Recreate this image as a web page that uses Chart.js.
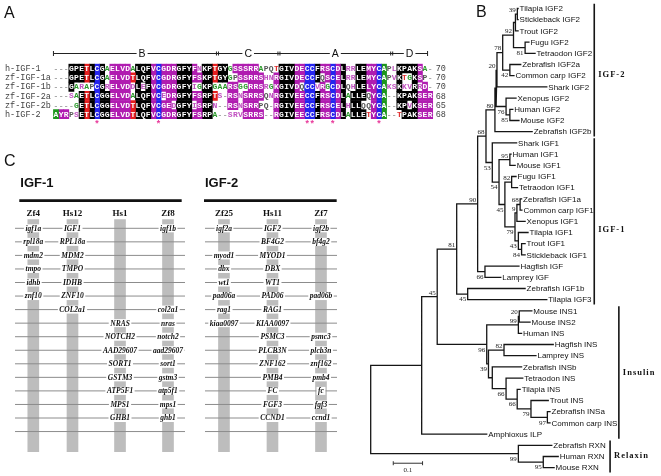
<!DOCTYPE html>
<html>
<head>
<meta charset="utf-8">
<title>IGF alignment, phylogeny and synteny</title>
<script src="https://cdn.jsdelivr.net/npm/chart.js@4.4.1/dist/chart.umd.min.js"></script>
<style>
  html, body { margin: 0; padding: 0; background: #fff; }
  #fig { position: relative; width: 661px; height: 476px; overflow: hidden; background: #fff; }
  #fig canvas { position: absolute; }
  .panel { position: absolute; font-family: "Liberation Sans", Arial, sans-serif; font-size: 16px; color: #111; line-height: 1; }
</style>
</head>
<body>
<div id="fig">
  <canvas id="chartA" width="450" height="135" style="left:0;top:0"></canvas>
  <canvas id="chartB" width="331" height="476" style="left:330px;top:0"></canvas>
  <canvas id="chartC" width="345" height="326" style="left:0;top:150px"></canvas>
  <div class="panel" style="left:4px;top:5px">A</div>
  <div class="panel" style="left:476px;top:4px">B</div>
  <div class="panel" style="left:4px;top:153px">C</div>
</div>
<script>
// ---------- A: alignment data ----------
const seqNames = ['h-IGF-1', 'zf-IGF-1a', 'zf-IGF-1b', 'zf-IGF-2a', 'zf-IGF-2b', 'h-IGF-2'];
const seqs = [
  '---GPETLCGAELVDALQFVCGDRGFYFNKPTGYGSSSRRAPQTGIVDECCFRSCDLRRLEMYCAPLKPAKSA-',
  '---GPETLCGAELVDTLQFVCGDRGFYFSKPTGYGPSSRRSHNRGIVDECCFQSCELRRLEMYCAPVKTGKSP-',
  '---GARAPCGRELVDDLEFVCGDRGFYIGKPGAARSGGRRSRGKGIVDQCCVRGCDLQHLELYCAKSKKVRRD-',
  '---SAETLCGGELVDALQFVCEDRGFYFSRPTS-RSNSRRSQNRGIVEECCFRSCDLALLEQYCA--KPAKSER',
  '----GETLCGGELVDTLQFVCGEDGFYISRPN--RSNSRRPQ-RGIVEECCFRSCELHLLQQYCA--KPVKSER',
  'AYRPSETLCGGELVDTLQFVCGDRGFYFSRPA--SRVSRRS--RGIVEECCFRSCDLALLETYCA--TPAKSER'
];
const seqLengths = [70, 70, 70, 68, 65, 68];
// shading class of each alignment column (k black, m magenta, b blue, r red, g green, . none)
const columnShade = 'gmmkkkrkbk' + 'kmmmmrkkkm' + 'bmmmkkkmmk' + 'krkkmmmmmm' +
                    'm..mkkkmmb' + 'bkmmbmk.kk' + 'kmmbg..kkk' + 'kmmm';
const starCols = [8, 20, 49, 50, 54, 63];
const domainNames = ['B', 'C', 'A', 'D'];
const domainStart = [0, 32, 44, 66];
const domainEnd = [32, 44, 66, 73];

// ---------- B: tree data ----------
const taxa = ['Tilapia IGF2', 'Stickleback IGF2', 'Trout IGF2', 'Fugu IGF2', 'Tetraodon IGF2',
  'Zebrafish IGF2a', 'Common carp IGF2', 'Shark IGF2', 'Xenopus IGF2', 'Human IGF2', 'Mouse IGF2',
  'Zebrafish IGF2b', 'Shark IGF1', 'Human IGF1', 'Mouse IGF1', 'Fugu IGF1', 'Tetraodon IGF1',
  'Zebrafish IGF1a', 'Common carp IGF1', 'Xenopus IGF1', 'Tilapia IGF1', 'Trout IGF1',
  'Stickleback IGF1', 'Hagfish IGF', 'Lamprey IGF', 'Zebrafish IGF1b', 'Tilapia IGF3',
  'Mouse INS1', 'Mouse INS2', 'Human INS', 'Hagfish INS', 'Lamprey INS', 'Zebrafish INSb',
  'Tetraodon INS', 'Tilapia INS', 'Trout INS', 'Zebrafish INSa', 'Common carp INS',
  'Amphioxus ILP', 'Zebrafish RXN', 'Human RXN', 'Mouse RXN'];
// distance from root to each tip
const tipDepth = [0.503, 0.503, 0.503, 0.540, 0.561, 0.512, 0.489, 0.601, 0.496, 0.485, 0.506,
  0.551, 0.498, 0.479, 0.493, 0.496, 0.501, 0.515, 0.516, 0.527, 0.537, 0.527, 0.527, 0.506,
  0.444, 0.527, 0.601, 0.550, 0.544, 0.515, 0.623, 0.564, 0.515, 0.519, 0.510, 0.606, 0.612,
  0.612, 0.396, 0.618, 0.640, 0.626];
// internal nodes: id, upper child, lower child, depth, bootstrap
const clades = [
  ['a1', 0, 1, 0.5005, 39], ['a2', 'a1', 2, 0.494, null], ['a3', 3, 4, 0.527, 81],
  ['a4', 'a2', 'a3', 0.4874, 92], ['a5', 5, 6, 0.475, 42], ['a6', 'a4', 'a5', 0.4505, 78],
  ['a7', 'a6', 7, 0.431, 20], ['a8', 9, 10, 0.475, 85], ['a9', 8, 'a8', 0.462, 76],
  ['a10', 'a7', 'a9', 0.428, null], ['a11', 'a10', 11, 0.424, 80],
  ['b1', 13, 14, 0.475, 95], ['b2', 15, 16, 0.481, 82], ['b3', 17, 18, 0.510, 68],
  ['b4', 'b3', 19, 0.499, 9], ['b5', 21, 22, 0.515, 84], ['b6', 20, 'b5', 0.504, 43],
  ['b7', 'b4', 'b6', 0.4925, 79], ['b8', 'b2', 'b7', 0.458, 45], ['b9', 'b1', 'b8', 0.438, 54],
  ['b10', 12, 'b9', 0.415, 53], ['b11', 23, 24, 0.390, 66], ['b12', 'a11', 'b10', 0.3935, 68],
  ['b13', 'b12', 'b11', 0.365, 90], ['b14', 25, 26, 0.331, 45], ['b15', 'b13', 'b14', 0.2935, 81],
  ['c1', 27, 28, 0.507, 20], ['c2', 'c1', 29, 0.504, 99], ['c3', 30, 31, 0.455, 82],
  ['c4', 36, 37, 0.603, 97], ['c5', 35, 'c4', 0.547, 79], ['c6', 34, 'c5', 0.500, 66],
  ['c7', 33, 'c6', 0.462, 66], ['c8', 32, 'c7', 0.415, null], ['c9', 'c3', 'c8', 0.402, 39],
  ['c10', 'c2', 'c9', 0.396, 96], ['d1', 'b15', 'c10', 0.227, 45], ['d2', 'd1', 38, 0.174, null],
  ['e1', 40, 41, 0.589, 95], ['e2', 39, 'e1', 0.504, 99], ['root', 'd2', 'e2', 0, null]
];
const groupNames = ['IGF-2', 'IGF-1', 'Insulin', 'Relaxin'];
const groupFirst = [0, 12, 27, 39];
const groupLast = [11, 26, 38, 41];
const scaleBarLength = 0.1;

// ---------- C: synteny data ----------
const igf1Chroms = ['Zf4', 'Hs12', 'Hs1', 'Zf8'];
const igf2Chroms = ['Zf25', 'Hs11', 'Zf7'];
const zf4Genes = ['igf1a', 'rpl18a', 'mdm2', 'tmpo', 'idhb', 'znf10'];
const hs12Genes = ['IGF1', 'RPL18a', 'MDM2', 'TMPO', 'IDHB', 'ZNF10', 'COL2a1'];
const hs1Genes = ['', '', '', '', '', '', '', 'NRAS', 'NOTCH2', 'AAD29607', 'SORT1', 'GSTM3', 'ATP5F1', 'MPS1', 'GHB1'];
const zf8Genes = ['igf1b', '', '', '', '', '', 'col2a1', 'nras', 'notch2', 'aad29607', 'sort1', 'gstm3', 'atp5f1', 'mps1', 'ghb1'];
const zf25Genes = ['igf2a', '', 'myod1', 'dbx', 'wt1', 'pad06a', 'rag1', 'kiaa0097'];
const hs11Genes = ['IGF2', 'BF4G2', 'MYOD1', 'DBX', 'WT1', 'PAD06', 'RAG1', 'KIAA0097', 'PSMC3', 'PLCB3N', 'ZNF162', 'PMB4', 'FC', 'FGF3', 'CCND1'];
const zf7Genes = ['igf2b', 'bf4g2', '', '', '', 'pad06b', '', '', 'psmc3', 'plcb3n', 'znf162', 'pmb4', 'fc', 'fgf3', 'ccnd1'];
const rowCount = 16;

// ---------- layout ----------
Chart.defaults.font.family = '"Liberation Sans", Arial, sans-serif';
const quiet = { legend: { display: false }, tooltip: { enabled: false } };

// ===== A =====
const shadeColor = { k: '#000000', m: '#b01cb0', b: '#2424ee', r: '#e61e1e', g: '#1c961c' };
const simGroups = ['KR', 'DE', 'ST', 'ILVM', 'FYW', 'NQ'];
function columnConsensus(c) {
  const cnt = {};
  seqs.forEach(s => { const ch = s[c]; if (ch !== '-') cnt[ch] = (cnt[ch] || 0) + 1; });
  let best = null, n = 0;
  for (const k in cnt) if (cnt[k] > n) { n = cnt[k]; best = k; }
  return best;
}
const consensus = seqs[0].split('').map((_, c) => columnConsensus(c));
function plainColor(ch) {
  if (ch === '-') return '#a0a0a0';
  if ('AG'.includes(ch)) return '#2a9a2a';
  if (ch === 'T') return '#e03030';
  if ('PQ'.includes(ch)) return '#555';
  return '#c050c0';
}
function cellStyle(r, c) {
  const ch = seqs[r][c], cls = columnShade[c], cons = consensus[c];
  if (ch === '-') return { bg: 'rgba(0,0,0,0)', fg: plainColor(ch) };
  let hit = false;
  if (cls !== '.') {
    if (ch === cons) hit = true;
    else if ((cls === 'k' || cls === 'm') && simGroups.some(g => g.includes(ch) && g.includes(cons))) hit = true;
  }
  return hit ? { bg: shadeColor[cls], fg: '#fff' } : { bg: 'rgba(0,0,0,0)', fg: plainColor(ch) };
}

const alignPlugin = {
  id: 'alignPlugin',
  afterDatasetsDraw(chart) {
    const { ctx, scales: { x: xs, y: ys } } = chart;
    ctx.save();
    ctx.textAlign = 'center';
    ctx.textBaseline = 'middle';
    ctx.font = 'bold 8px "Liberation Mono", monospace';
    seqs.forEach((s, r) => {
      const py = ys.getPixelForValue(r) + 0.5;
      for (let c = 0; c < s.length; c++) {
        ctx.fillStyle = cellStyle(r, c).fg;
        ctx.fillText(s[c], xs.getPixelForValue(c + 0.5), py);
      }
    });
    ctx.font = '8.5px "Liberation Mono", monospace';
    ctx.fillStyle = '#444';
    ctx.textAlign = 'left';
    seqNames.forEach((n, r) => ctx.fillText(n, xs.getPixelForValue(-9.45), ys.getPixelForValue(r) + 0.5));
    seqLengths.forEach((n, r) => ctx.fillText('' + n, xs.getPixelForValue(74.6), ys.getPixelForValue(r) + 0.5));

    ctx.fillStyle = '#e8389a';
    ctx.textAlign = 'center';
    ctx.font = 'bold 9px "Liberation Mono", monospace';
    starCols.forEach(c => ctx.fillText('*', xs.getPixelForValue(c + 0.5), ys.getPixelForValue(5.95) + 2));

    // domain bar
    const ly = Math.round(ys.getPixelForValue(-1.66)) + 0.5;
    const x0 = xs.getPixelForValue(domainStart[0]);
    const x1 = xs.getPixelForValue(domainEnd[domainEnd.length - 1]);
    ctx.strokeStyle = '#222';
    ctx.lineWidth = 1;
    ctx.beginPath();
    ctx.moveTo(x0, ly); ctx.lineTo(x1, ly);
    ctx.moveTo(x0, ly - 2.5); ctx.lineTo(x0, ly + 2.5);
    ctx.moveTo(x1, ly - 2.5); ctx.lineTo(x1, ly + 2.5);
    domainStart.slice(1).forEach(v => {
      const px = xs.getPixelForValue(v);
      ctx.moveTo(px - 1, ly - 2); ctx.lineTo(px - 1, ly + 2);
      ctx.moveTo(px + 1, ly - 2); ctx.lineTo(px + 1, ly + 2);
    });
    ctx.stroke();
    ctx.font = '10.5px "Liberation Sans", Arial, sans-serif';
    domainNames.forEach((n, i) => {
      const px = xs.getPixelForValue((domainStart[i] + domainEnd[i]) / 2 + (i === 0 ? 1.3 : 0));
      const w = ctx.measureText(n).width;
      ctx.fillStyle = '#fff';
      ctx.fillRect(px - w / 2 - 2, ly - 5, w + 4, 10);
      ctx.fillStyle = '#111';
      ctx.fillText(n, px, ly + 0.5);
    });
    ctx.restore();
  }
};

new Chart(document.getElementById('chartA'), {
  type: 'bar',
  data: {
    labels: seqNames,
    datasets: seqs[0].split('').map((_, c) => ({
      data: seqs.map(() => 1),
      backgroundColor: seqs.map((s, r) => cellStyle(r, c).bg),
      borderWidth: 0,
      barPercentage: 1,
      categoryPercentage: 1
    }))
  },
  options: {
    indexAxis: 'y',
    responsive: false,
    animation: false,
    devicePixelRatio: 1,
    events: [],
    layout: { padding: { top: 63.7, bottom: 16.1, left: 0, right: 0 } },
    plugins: quiet,
    scales: {
      x: { type: 'linear', stacked: true, min: -10.427, max: 77.378, display: false },
      y: { type: 'category', stacked: true, display: false }
    }
  },
  plugins: [alignPlugin]
});

// ===== B =====
const nodePos = {};
const childSide = {};
taxa.forEach((t, i) => { nodePos[i] = { d: tipDepth[i], y: i }; });
const branchPts = [];
clades.forEach(([id, c1, c2, d, bs]) => {
  const p1 = nodePos[c1], p2 = nodePos[c2];
  nodePos[id] = { d, y: (p1.y + p2.y) / 2, bs };
  childSide[c1] = 'above';
  childSide[c2] = 'below';
  branchPts.push({ x: p1.d, y: p1.y }, { x: d, y: p1.y }, { x: d, y: p2.y }, { x: p2.d, y: p2.y }, { x: d, y: null });
});
const groupBarDepth = [0.763, 0.763, 0.847, 0.817];
const groupLabelRow = [5.95, 19.8, 32.5, 39.9];
const bracketPts = [];
groupNames.forEach((g, i) => {
  bracketPts.push({ x: groupBarDepth[i], y: groupFirst[i] - 0.42 }, { x: groupBarDepth[i], y: groupLast[i] + 0.42 }, { x: groupBarDepth[i], y: null });
});
const scaleBarStart = 0.077, scaleBarRow = 40.6;
const scaleBarPts = [
  { x: scaleBarStart, y: scaleBarRow }, { x: scaleBarStart + scaleBarLength, y: scaleBarRow }
];

const treePlugin = {
  id: 'treePlugin',
  afterDatasetsDraw(chart) {
    const { ctx, scales: { x: xs, y: ys } } = chart;
    ctx.save();
    ctx.fillStyle = '#111';
    ctx.font = '8px "Liberation Sans", Arial, sans-serif';
    ctx.textAlign = 'left';
    ctx.textBaseline = 'middle';
    taxa.forEach((t, i) => ctx.fillText(t, xs.getPixelForValue(tipDepth[i]) + 1.5, ys.getPixelForValue(i) + 0.5));

    ctx.font = '7px "Liberation Serif", "Times New Roman", serif';
    ctx.fillStyle = '#222';
    ctx.textAlign = 'right';
    clades.forEach(([id]) => {
      const n = nodePos[id];
      if (n.bs == null) return;
      const px = xs.getPixelForValue(n.d) - 1.5, py = ys.getPixelForValue(n.y);
      if (childSide[id] === 'above') { ctx.textBaseline = 'bottom'; ctx.fillText('' + n.bs, px, py - 0.5); }
      else { ctx.textBaseline = 'top'; ctx.fillText('' + n.bs, px, py + 2); }
    });

    ctx.font = 'bold 8.5px "Liberation Serif", "Times New Roman", serif';
    ctx.letterSpacing = '1px';
    ctx.textAlign = 'left';
    ctx.textBaseline = 'middle';
    ctx.fillStyle = '#111';
    groupNames.forEach((g, i) => {
      ctx.fillText(g, xs.getPixelForValue(groupBarDepth[i]) + 4, ys.getPixelForValue(groupLabelRow[i]));
    });
    ctx.letterSpacing = '0px';

    // scale bar ticks + label
    const sx0 = xs.getPixelForValue(scaleBarStart), sx1 = xs.getPixelForValue(scaleBarStart + scaleBarLength);
    const sy = ys.getPixelForValue(scaleBarRow);
    ctx.strokeStyle = '#333';
    ctx.lineWidth = 1;
    ctx.beginPath();
    ctx.moveTo(sx0, sy - 2); ctx.lineTo(sx0, sy + 2);
    ctx.moveTo(sx1, sy - 2); ctx.lineTo(sx1, sy + 2);
    ctx.stroke();
    ctx.font = '7px "Liberation Serif", serif';
    ctx.textAlign = 'center';
    ctx.textBaseline = 'top';
    ctx.fillStyle = '#222';
    ctx.fillText('' + scaleBarLength, (sx0 + sx1) / 2, sy + 3);
    ctx.restore();
  }
};

new Chart(document.getElementById('chartB'), {
  type: 'scatter',
  data: {
    datasets: [
      { data: branchPts, showLine: true, spanGaps: false, borderColor: '#151515', borderWidth: 1.3, pointRadius: 0, borderCapStyle: 'square', borderJoinStyle: 'miter', clip: false },
      { data: bracketPts, showLine: true, spanGaps: false, borderColor: '#151515', borderWidth: 1.6, pointRadius: 0, clip: false },
      { data: scaleBarPts, showLine: true, borderColor: '#333', borderWidth: 1, pointRadius: 0, clip: false }
    ]
  },
  options: {
    responsive: false,
    animation: false,
    devicePixelRatio: 1,
    events: [],
    layout: { padding: 0 },
    plugins: quiet,
    scales: {
      x: { type: 'linear', min: -0.1389, max: 0.9908, display: false },
      y: { type: 'linear', min: -0.759, max: 41.741, reverse: true, display: false }
    }
  },
  plugins: [treePlugin]
});

// ===== C =====
const chromNames = igf1Chroms.concat(igf2Chroms);
const chromGenes = [zf4Genes, hs12Genes, hs1Genes, zf8Genes, zf25Genes, hs11Genes, zf7Genes];
const trackX = [0, 0.834, 1.845, 2.866, 4.057, 5.089, 6.121];
const panelSpans = [[-0.389, 3.228], [3.653, 6.462]];
const titleSpans = [[-0.298, 3.157], [3.632, 6.455]];
const panelTitles = ['IGF-1', 'IGF-2'];

const rowLinePts = [];
panelSpans.forEach(([a, b]) => {
  for (let r = 0; r < rowCount; r++) rowLinePts.push({ x: a, y: r }, { x: b, y: r }, { x: a, y: null });
});
const titleRulePts = [];
titleSpans.forEach(([a, b]) => titleRulePts.push({ x: a, y: -2.04 }, { x: b, y: -2.04 }, { x: a, y: null }));

const syntenyPlugin = {
  id: 'syntenyPlugin',
  afterDatasetsDraw(chart) {
    const { ctx, scales: { x: xs, y: ys } } = chart;
    ctx.save();
    ctx.fillStyle = '#111';
    ctx.textBaseline = 'middle';
    ctx.textAlign = 'left';
    ctx.font = 'bold 13px "Liberation Sans", Arial, sans-serif';
    panelTitles.forEach((t, i) => ctx.fillText(t, xs.getPixelForValue(titleSpans[i][0]) + 1, ys.getPixelForValue(-3.34)));

    ctx.textAlign = 'center';
    ctx.font = 'bold 9px "Liberation Serif", "Times New Roman", serif';
    chromNames.forEach((n, i) => ctx.fillText(n, xs.getPixelForValue(trackX[i]), ys.getPixelForValue(-1.08)));

    ctx.font = 'italic bold 7.5px "Liberation Serif", "Times New Roman", serif';
    chromGenes.forEach((genes, i) => {
      const px = xs.getPixelForValue(trackX[i]);
      genes.forEach((g, r) => {
        if (!g) return;
        const py = ys.getPixelForValue(r);
        const w = ctx.measureText(g).width;
        ctx.fillStyle = '#fff';
        ctx.fillRect(px - w / 2 - 1.5, py - 4, w + 3, 8);
        ctx.fillStyle = '#111';
        ctx.fillText(g, px, py + 0.5);
      });
    });
    ctx.restore();
  }
};

new Chart(document.getElementById('chartC'), {
  type: 'bar',
  data: {
    datasets: [
      { type: 'line', data: titleRulePts, borderColor: '#111', borderWidth: 2.6, pointRadius: 0, spanGaps: false, order: 0 },
      { type: 'line', data: rowLinePts, borderColor: '#8c8c8c', borderWidth: 1, pointRadius: 0, spanGaps: false, order: 1 },
      { type: 'bar', data: trackX.map(x => ({ x, y: [-0.65, 16.49] })), backgroundColor: '#bdbdbd', borderWidth: 0, barThickness: 11, grouped: false, order: 2 }
    ]
  },
  options: {
    responsive: false,
    animation: false,
    devicePixelRatio: 1,
    events: [],
    layout: { padding: 0 },
    plugins: quiet,
    scales: {
      x: { type: 'linear', min: -0.7085, max: 6.632, offset: false, display: false },
      y: { type: 'linear', min: -5.779, max: 18.28, reverse: true, display: false }
    }
  },
  plugins: [syntenyPlugin]
});
</script>
</body>
</html>
